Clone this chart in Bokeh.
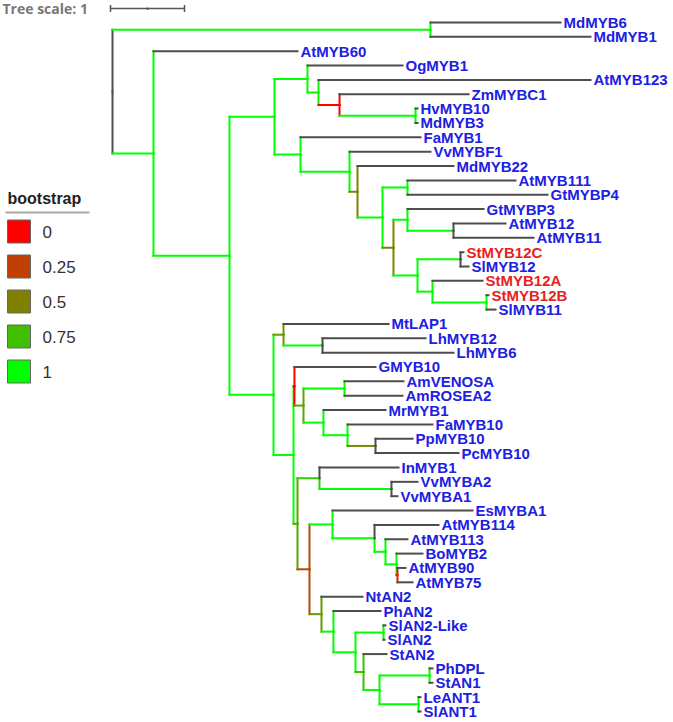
from bokeh.plotting import figure
from bokeh.models import Range1d, ColumnDataSource
from bokeh.core.properties import value
from bokeh.embed import file_html
from bokeh.resources import INLINE

# ---------------- data ----------------
LEAF_NAMES = ["MdMYB6", "MdMYB1", "AtMYB60", "OgMYB1", "AtMYB123", "ZmMYBC1", "HvMYB10", "MdMYB3",
              "FaMYB1", "VvMYBF1", "MdMYB22", "AtMYB111", "GtMYBP4", "GtMYBP3", "AtMYB12", "AtMYB11",
              "StMYB12C", "SlMYB12", "StMYB12A", "StMYB12B", "SlMYB11", "MtLAP1", "LhMYB12", "LhMYB6",
              "GMYB10", "AmVENOSA", "AmROSEA2", "MrMYB1", "FaMYB10", "PpMYB10", "PcMYB10", "InMYB1",
              "VvMYBA2", "VvMYBA1", "EsMYBA1", "AtMYB114", "AtMYB113", "BoMYB2", "AtMYB90", "AtMYB75",
              "NtAN2", "PhAN2", "SlAN2-Like", "SlAN2", "StAN2", "PhDPL", "StAN1", "LeANT1", "SlANT1"]
LEAF_DEPTH = [6.054, 6.459, 2.5, 3.919, 6.459, 4.811, 4.122, 4.122,
              4.162, 4.297, 4.608, 5.446, 5.878, 5.014, 5.311, 5.689,
              4.743, 4.811, 5.0, 5.081, 5.176, 3.730, 4.230, 4.608,
              3.554, 3.932, 3.919, 3.689, 4.324, 4.054, 4.676, 3.865,
              4.122, 3.851, 4.865, 4.405, 3.986, 4.189, 3.959, 4.054,
              3.378, 3.622, 3.689, 3.676, 3.703, 4.324, 4.324, 4.162, 4.162]
LEAF_PARENT = ["nMd", "nMd", "nA1", "n307", "n318", "n339", "nHv", "nHv",
               "n300", "n349", "n357", "n407a", "n407a", "n407b", "n453", "n453",
               "n460", "n460", "n432", "n486", "n486", "n283", "n322L", "n322L",
               "nA", "nAm", "nAm", "n323", "n347", "n375", "n375", "nE",
               "nVv", "nVv", "n332", "nG", "nH", "nI", "nJ", "nJ",
               "n321", "n333", "nSl", "nSl", "n363", "nPh", "nPh", "nLe", "nLe"]
HIGHLIGHTED = ["StMYB12C", "StMYB12A", "StMYB12B"]

NODE_NAMES = ["root", "nMd", "nA1", "n229", "n274", "n307", "n318", "n339", "nHv", "n300",
              "n349", "n357", "n382", "n407a", "n393", "n407b", "n453", "n417", "n460", "n432",
              "n486", "n273", "n283", "n322L", "nC", "nA", "n303", "nAm", "n323", "n347",
              "n375", "nD", "nE", "nVv", "nF", "n332", "nG", "nH", "nI", "nJ",
              "n321", "n333", "n355", "nSl", "n363", "n379", "nPh", "nLe"]
NODE_PARENT = [None, "root", "root", "nA1", "n229", "n274", "n307", "n318", "n339", "n274",
               "n300", "n349", "n357", "n382", "n382", "n393", "n407b", "n393", "n417", "n417",
               "n432", "n229", "n273", "n283", "n273", "nC", "nA", "n303", "n303", "n323",
               "n347", "nC", "nD", "nE", "nD", "nF", "n332", "nG", "nH", "nI",
               "nF", "n321", "n333", "n355", "n355", "n363", "n379", "n379"]
NODE_DEPTH = [0.0, 4.297, 0.554, 1.581, 2.189, 2.635, 2.784, 3.068, 4.095, 2.541,
              3.203, 3.311, 3.649, 3.986, 3.797, 3.986, 4.608, 4.122, 4.703, 4.324,
              5.054, 2.176, 2.311, 2.838, 2.446, 2.459, 2.581, 3.135, 2.851, 3.176,
              3.554, 2.5, 2.797, 3.770, 2.662, 2.973, 3.541, 3.689, 3.838, 3.851,
              2.824, 2.986, 3.284, 3.662, 3.392, 3.608, 4.284, 4.135]
NODE_BOOT = [None, 1.0, 1.0, 1.0, 1.0, 1.0, 0.95, 0.0, 1.0, 1.0,
             1.0, 0.5, 1.0, 1.0, 0.5, 1.0, 1.0, 1.0, 1.0, 1.0,
             1.0, 1.0, 0.6, 1.0, 1.0, 0.0, 0.65, 1.0, 1.0, 1.0,
             0.55, 0.65, 0.8, 1.0, 0.3, 1.0, 1.0, 1.0, 1.0, 0.15,
             0.6, 1.0, 1.0, 1.0, 0.75, 1.0, 1.0, 1.0]
# nodes whose vertical segments toward leaves are drawn dark
DARK_LEAF_SEG = ["n453", "n460", "n322L", "nVv", "n375", "nE", "nG"]

LEGEND_TITLE = "bootstrap"
LEGEND_VALUES = [0, 0.25, 0.5, 0.75, 1]
LEGEND_LABELS = ["0", "0.25", "0.5", "0.75", "1"]
SCALE_LABEL = "Tree scale: 1"
SCALE_LENGTH = 1.0

# ---------------- layout (pixel mapping) ----------------
W, H = 673, 722
ORIGIN = 0  # page position of the figure's top-left corner
X0_PX, PX_PER_UNIT = 112.0, 74.0
Y0_PX, ROW_PX = 22.0, 14.354


def px2x(px):
    return (px - X0_PX) / PX_PER_UNIT


def py2y(py):
    return (py - Y0_PX) / ROW_PX


DARK = "#4d4d4d"
BLUE = "#2020e2"
RED = "#ea1e1e"


def boot_color(b):
    r = int(round(255 * (1 - b)))
    g = int(round(255 * b))
    return "#%02x%02x%02x" % (r, g, 0)


# ---------------- build tree geometry ----------------
depth = {}
parent = {}
boot = {}
children = {}
is_leaf = {}
ypos = {}
for n, par, d, b in zip(NODE_NAMES, NODE_PARENT, NODE_DEPTH, NODE_BOOT):
    depth[n] = d
    parent[n] = par
    boot[n] = b
    is_leaf[n] = False
    children.setdefault(n, [])
    if par is not None:
        children.setdefault(par, []).append(n)
for i, (n, par, d) in enumerate(zip(LEAF_NAMES, LEAF_PARENT, LEAF_DEPTH)):
    depth[n] = d
    parent[n] = par
    is_leaf[n] = True
    ypos[n] = float(i)
    children.setdefault(par, []).append(n)


def get_y(n):
    if n in ypos:
        return ypos[n]
    ys = [get_y(c) for c in children[n]]
    ypos[n] = (min(ys) + max(ys)) / 2.0
    return ypos[n]


get_y("root")

sx0, sx1, sy0, sy1, scol = [], [], [], [], []


def walk(n):
    if parent[n] is not None:
        col = DARK if is_leaf[n] else boot_color(boot[n])
        sx0.append(depth[parent[n]]); sx1.append(depth[n])
        sy0.append(ypos[n]); sy1.append(ypos[n]); scol.append(col)
    if is_leaf[n]:
        return
    ncol = DARK if boot[n] is None else boot_color(boot[n])
    for c in children[n]:
        col = DARK if (is_leaf[c] and n in DARK_LEAF_SEG) else ncol
        sx0.append(depth[n]); sx1.append(depth[n])
        sy0.append(ypos[n]); sy1.append(ypos[c]); scol.append(col)
    for c in sorted(children[n], key=lambda c: ypos[c]):
        walk(c)


walk("root")

# ---------------- figure ----------------
p = figure(width=W, height=H, output_backend="svg", toolbar_location=None,
           x_range=Range1d(px2x(ORIGIN), px2x(ORIGIN + W)),
           y_range=Range1d(py2y(ORIGIN + H), py2y(ORIGIN)),
           min_border=0, outline_line_color=None)
p.axis.visible = False
p.grid.visible = False
p.background_fill_color = "white"
p.border_fill_color = "white"

p.segment(x0="x0", y0="y0", x1="x1", y1="y1", color="c", line_width=2, line_cap="square",
          source=ColumnDataSource(dict(x0=sx0, y0=sy0, x1=sx1, y1=sy1, c=scol)))

lab_src = ColumnDataSource(dict(
    x=[d + 3.0 / PX_PER_UNIT for d in LEAF_DEPTH],
    y=[float(i) for i in range(len(LEAF_NAMES))],
    t=LEAF_NAMES,
    c=[RED if n in HIGHLIGHTED else BLUE for n in LEAF_NAMES]))
p.text(x="x", y="y", text="t", text_color="c", text_font=value("Liberation Sans"),
       text_font_size="15px", text_font_style="bold", text_baseline="middle",
       text_align="left", source=lab_src)

# tree scale
sy = py2y(8)
p.text(x=[px2x(2)], y=[sy], text=[SCALE_LABEL], text_color="#787878",
       text_font=value("Open Sans"), text_font_size="14px", text_font_style="bold",
       text_baseline="middle")
bar_x0 = px2x(110)
bar_x1 = bar_x0 + SCALE_LENGTH
p.segment(x0=[bar_x0], y0=[sy], x1=[bar_x1], y1=[sy], color="#555555", line_width=1.5)
p.segment(x0=[bar_x0, bar_x1], y0=[py2y(4.5)] * 2, x1=[bar_x0, bar_x1], y1=[py2y(11.5)] * 2,
          color="#555555", line_width=1.5)
mid = (bar_x0 + bar_x1) / 2
p.segment(x0=[mid], y0=[py2y(7)], x1=[mid], y1=[py2y(9.5)], color="#555555", line_width=1.5)

# legend
p.text(x=[px2x(7)], y=[py2y(198)], text=[LEGEND_TITLE], text_color="#222222",
       text_font=value("Liberation Sans"), text_font_size="16px", text_font_style="bold",
       text_baseline="middle")
p.segment(x0=[px2x(5)], y0=[py2y(212)], x1=[px2x(89)], y1=[py2y(212)], color="#aaaaaa", line_width=2)
for k, (v, lab) in enumerate(zip(LEGEND_VALUES, LEGEND_LABELS)):
    cy = 231 + 35 * k
    p.quad(left=[px2x(7)], right=[px2x(30)], top=[py2y(cy - 11.5)], bottom=[py2y(cy + 11.5)],
           fill_color=boot_color(v), line_color="#666666", line_width=1)
    p.text(x=[px2x(42)], y=[py2y(cy)], text=[lab], text_color="#333333",
           text_font=value("Liberation Sans"), text_font_size="17px", text_baseline="middle")

open("out.html", "w").write(file_html(p, INLINE))
